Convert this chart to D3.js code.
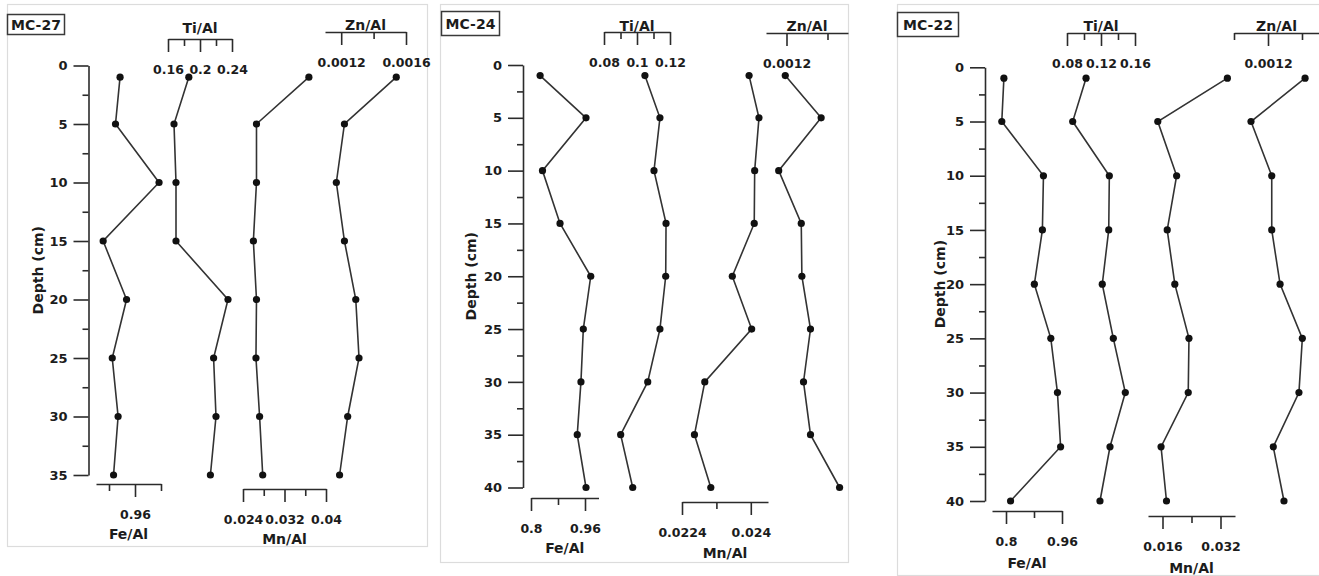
<!DOCTYPE html>
<html>
<head>
<meta charset="utf-8">
<script src="https://cdn.jsdelivr.net/npm/d3@7"></script>
<style>
  body { margin: 0; background: #fff; }
  svg text { font-family: "DejaVu Sans", Verdana, sans-serif; font-weight: bold; fill: #1c1c1c; }
</style>
</head>
<body>
<svg id="chart" width="1319" height="576"></svg>
<script>
// ---- Sample depths (cm) ----
const depthMC27 = [1, 5, 10, 15, 20, 25, 30, 35];
const depthMC24 = [1, 5, 10, 15, 20, 25, 30, 35, 40];
const depthMC22 = [1, 5, 10, 15, 20, 25, 30, 35, 40];

// ---- MC-27 element ratios ----
const feMC27 = [0.937, 0.930, 0.997, 0.911, 0.947, 0.925, 0.934, 0.927];
const tiMC27 = [0.186, 0.1675, 0.170, 0.170, 0.235, 0.217, 0.220, 0.213];
const mnMC27 = [0.0367, 0.0266, 0.0266, 0.0260, 0.0266, 0.0265, 0.0272, 0.0278];
const znMC27 = [0.00154, 0.00122, 0.00117, 0.00122, 0.00129, 0.00131, 0.00124, 0.00119];

// ---- MC-24 element ratios ----
const feMC24 = [0.827, 0.963, 0.834, 0.886, 0.977, 0.955, 0.948, 0.937, 0.963];
const tiMC24 = [0.1048, 0.1139, 0.1103, 0.1176, 0.1174, 0.1139, 0.1065, 0.0901, 0.0974];
const mnMC24 = [0.02396, 0.02419, 0.02409, 0.02408, 0.02357, 0.02402, 0.02293, 0.02269, 0.02307];
const znMC24 = [0.001194, 0.001369, 0.001162, 0.001272, 0.001275, 0.001317, 0.001283, 0.001317, 0.001459];

// ---- MC-22 element ratios ----
const feMC22 = [0.794, 0.788, 0.907, 0.904, 0.881, 0.928, 0.947, 0.956, 0.813];
const tiMC22 = [0.1024, 0.0867, 0.1298, 0.1291, 0.1215, 0.1345, 0.1486, 0.1306, 0.1188];
const mnMC22 = [0.0339, 0.0147, 0.0199, 0.0173, 0.0194, 0.0233, 0.0231, 0.0156, 0.0171];
const znMC22 = [0.001418, 0.00110, 0.001222, 0.001222, 0.001271, 0.001402, 0.001382, 0.001231, 0.001294];

// ---- Axis ticks ----
const depthMajor35 = [0, 5, 10, 15, 20, 25, 30, 35];
const depthMinor35 = [2.5, 7.5, 12.5, 17.5, 22.5, 27.5, 32.5];
const depthMajor40 = [0, 5, 10, 15, 20, 25, 30, 35, 40];
const depthMinor40 = [2.5, 7.5, 12.5, 17.5, 22.5, 27.5, 32.5, 37.5];

const feTicksMC27 = [0.96],                 feMinorMC27 = [0.92, 1.00];
const tiTicksMC27 = [0.16, 0.2, 0.24],      tiMinorMC27 = [0.18, 0.22];
const mnTicksMC27 = [0.024, 0.032, 0.04],   mnMinorMC27 = [0.028, 0.036];
const znTicksMC27 = [0.0012, 0.0016],       znMinorMC27 = [0.0014];

const feTicksMC24 = [0.8, 0.96],            feMinorMC24 = [0.88];
const tiTicksMC24 = [0.08, 0.1, 0.12],      tiMinorMC24 = [0.09, 0.11];
const mnTicksMC24 = [0.0224, 0.024],        mnMinorMC24 = [0.0232];
const znTicksMC24 = [0.0012],               znMinorMC24 = [0.0014];

const feTicksMC22 = [0.8, 0.96],            feMinorMC22 = [0.88];
const tiTicksMC22 = [0.08, 0.12, 0.16],     tiMinorMC22 = [0.1, 0.14];
const mnTicksMC22 = [0.016, 0.032],         mnMinorMC22 = [0.024];
const znTicksMC22 = [0.0012],               znMinorMC22 = [0.001, 0.0014];

// ---- Layout of the three core panels ----
const panels = [
  {
    name: "MC-27", depths: depthMC27, depthMax: 35, major: depthMajor35, minor: depthMinor35,
    frame: [7, 4, 427, 546], box: [7, 14, 64, 34], axisX: 88.5, yRange: [65.5, 475], depthLabelX: 38,
    series: [
      { title: "Fe/Al", values: feMC27, domain: [0.90, 1.00], range: [96, 161], axisY: 484, titleY: 539, ticks: feTicksMC27, minorTicks: feMinorMC27 },
      { title: "Ti/Al", values: tiMC27, domain: [0.16, 0.24], range: [168, 232], axisY: 39, titleY: 33, ticks: tiTicksMC27, minorTicks: tiMinorMC27 },
      { title: "Mn/Al", values: mnMC27, domain: [0.024, 0.040], range: [243, 326], axisY: 489, titleY: 544, ticks: mnTicksMC27, minorTicks: mnMinorMC27 },
      { title: "Zn/Al", values: znMC27, domain: [0.0011, 0.0016], range: [325, 406], axisY: 32, titleY: 30, ticks: znTicksMC27, minorTicks: znMinorMC27 }
    ]
  },
  {
    name: "MC-24", depths: depthMC24, depthMax: 40, major: depthMajor40, minor: depthMinor40,
    frame: [440, 4, 848, 562], box: [441, 11, 499, 35], axisX: 523, yRange: [65, 487.5], depthLabelX: 471,
    series: [
      { title: "Fe/Al", values: feMC24, domain: [0.8, 1.0], range: [531, 598.5], axisY: 498, titleY: 553, ticks: feTicksMC24, minorTicks: feMinorMC24 },
      { title: "Ti/Al", values: tiMC24, domain: [0.08, 0.12], range: [604, 670], axisY: 32, titleY: 30.5, ticks: tiTicksMC24, minorTicks: tiMinorMC24 },
      { title: "Mn/Al", values: mnMC24, domain: [0.0224, 0.0244], range: [682, 768], axisY: 502, titleY: 558, ticks: mnTicksMC24, minorTicks: mnMinorMC24 },
      { title: "Zn/Al", values: znMC24, domain: [0.0011, 0.0015], range: [766, 848], axisY: 33, titleY: 30.5, ticks: znTicksMC24, minorTicks: znMinorMC24 }
    ]
  },
  {
    name: "MC-22", depths: depthMC22, depthMax: 40, major: depthMajor40, minor: depthMinor40,
    frame: [897, 4, 1330, 575], box: [897, 12, 958, 36], axisX: 985, yRange: [67.3, 501], depthLabelX: 940,
    series: [
      { title: "Fe/Al", values: feMC22, domain: [0.76, 0.96], range: [992, 1062], axisY: 511, titleY: 568, ticks: feTicksMC22, minorTicks: feMinorMC22 },
      { title: "Ti/Al", values: tiMC22, domain: [0.08, 0.16], range: [1067, 1135], axisY: 33, titleY: 30.5, ticks: tiTicksMC22, minorTicks: tiMinorMC22 },
      { title: "Mn/Al", values: mnMC22, domain: [0.012, 0.036], range: [1148, 1235], axisY: 516, titleY: 573, ticks: mnTicksMC22, minorTicks: mnMinorMC22 },
      { title: "Zn/Al", values: znMC22, domain: [0.0010, 0.0015], range: [1234, 1319], axisY: 33, titleY: 30.5, ticks: znTicksMC22, minorTicks: znMinorMC22 }
    ]
  }
];

const ink = "#2b2b2b";
const fmt = d3.format("~g");
const svg = d3.select("#chart");

function styleAxis(g, size) {
  g.selectAll("path.domain").attr("stroke", ink).attr("stroke-width", 1.6);
  g.selectAll(".tick line").attr("stroke", ink).attr("stroke-width", 1.6);
  g.selectAll(".tick text")
    .attr("fill", "#1c1c1c")
    .style("font-family", '"DejaVu Sans", Verdana, sans-serif')
    .style("font-weight", "bold")
    .style("font-size", size || "12.5px");
}

panels.forEach(p => {
  const root = svg.append("g").attr("class", "panel");

  // panel frame
  const [fx0, fy0, fx1, fy1] = p.frame;
  root.append("rect")
    .attr("x", fx0 + 0.5).attr("y", fy0 + 0.5)
    .attr("width", fx1 - fx0).attr("height", fy1 - fy0)
    .attr("fill", "none").attr("stroke", "#dcdcdc").attr("stroke-width", 1.2);

  // core name tag
  const [bx0, by0, bx1, by1] = p.box;
  root.append("rect")
    .attr("x", bx0 + 0.5).attr("y", by0 + 0.5)
    .attr("width", bx1 - bx0).attr("height", by1 - by0)
    .attr("fill", "#fff").attr("stroke", "#3a3a3a").attr("stroke-width", 1.5);
  root.append("text")
    .attr("x", (bx0 + bx1) / 2 + 0.5).attr("y", (by0 + by1) / 2 + 5.5)
    .attr("text-anchor", "middle").style("font-size", "14px")
    .text(p.name);

  // depth axis
  const y = d3.scaleLinear().domain([0, p.depthMax]).range(p.yRange);
  const gMinor = root.append("g").attr("transform", `translate(${p.axisX},0)`)
    .call(d3.axisLeft(y).tickValues(p.minor).tickSize(6).tickSizeOuter(0).tickFormat(""));
  gMinor.select("path.domain").remove();
  styleAxis(gMinor);
  const gDepth = root.append("g").attr("transform", `translate(${p.axisX},0)`)
    .call(d3.axisLeft(y).tickValues(p.major).tickSize(15).tickSizeOuter(0).tickPadding(6).tickFormat(d3.format("d")));
  styleAxis(gDepth, "13px");

  root.append("text")
    .attr("transform", `translate(${p.depthLabelX + 5},${(p.yRange[0] + p.yRange[1]) / 2}) rotate(-90)`)
    .attr("text-anchor", "middle").style("font-size", "14px")
    .text("Depth (cm)");

  // one profile per element ratio
  p.series.forEach(s => {
    const x = d3.scaleLinear().domain(s.domain).range(s.range);
    const gm = root.append("g").attr("transform", `translate(0,${s.axisY})`)
      .call(d3.axisBottom(x).tickValues(s.minorTicks).tickSize(7).tickSizeOuter(0).tickFormat(""));
    gm.select("path.domain").remove();
    styleAxis(gm);
    const ga = root.append("g").attr("transform", `translate(0,${s.axisY})`)
      .call(d3.axisBottom(x).tickValues(s.ticks).tickSize(13).tickSizeOuter(0).tickPadding(13).tickFormat(fmt));
    styleAxis(ga);

    root.append("text")
      .attr("x", (s.range[0] + s.range[1]) / 2)
      .attr("y", s.titleY)
      .attr("text-anchor", "middle").style("font-size", "14px")
      .text(s.title);

    const pts = p.depths.map((d, i) => ({ d, v: s.values[i] }));
    root.append("path")
      .datum(pts)
      .attr("fill", "none").attr("stroke", "#333").attr("stroke-width", 1.6)
      .attr("d", d3.line().x(q => x(q.v)).y(q => y(q.d)));
    root.selectAll(null).data(pts).enter().append("circle")
      .attr("cx", q => x(q.v)).attr("cy", q => y(q.d)).attr("r", 3.6)
      .attr("fill", "#111");
  });
});
</script>
</body>
</html>
